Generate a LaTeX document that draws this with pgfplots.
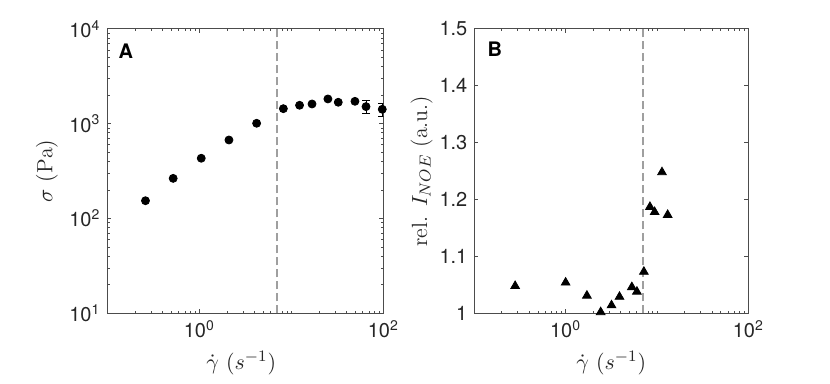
\documentclass[border=0pt]{standalone}
\usepackage{pgfplots}
\pgfplotsset{compat=1.18}
\usepackage{fontspec}
\setsansfont{TeX Gyre Heros}

\pgfplotsset{
  panel/.style={
    scale only axis,
    height=142.2pt,
    xmin=0.1, xmax=100,
    axis line style={black!70, line width=0.5pt},
    every tick/.style={black!70, line width=0.4pt},
    major tick length=2pt, minor tick length=1.2pt,
    tick align=inside,
    tick label style={font=\sffamily\fontsize{10}{12}\selectfont, text=black!85, inner sep=1pt},
    xticklabel style={yshift=-2.3pt},
    yticklabel style={xshift=-2.3pt},
    label style={font=\fontsize{11}{13}\selectfont, text=black!85, inner sep=1pt},
    xtick={1,100},
    xticklabels={10\textsuperscript{0},10\textsuperscript{2}},
    minor xtick={0.2,0.3,0.4,0.5,0.6,0.7,0.8,0.9,2,3,4,5,6,7,8,9,10,20,30,40,50,60,70,80,90},
    xlabel={$\dot{\gamma}\ (s^{-1})$},
  },
  vline/.style={gray!75, line width=0.8pt, dash pattern=on 4pt off 2pt},
}

\begin{document}
\begin{tikzpicture}
\path[use as bounding box] (-53.65pt,-35.35pt) rectangle (361.35pt,156.65pt);

% panel A
\begin{loglogaxis}[panel,
  at={(0,0)}, anchor=south west, width=138pt,
  ymin=10, ymax=10000,
  ytick={10,100,1000,10000},
  yticklabels={10\textsuperscript{1},10\textsuperscript{2},10\textsuperscript{3},10\textsuperscript{4}},
  minor ytick={20,30,40,50,60,70,80,90,200,300,400,500,600,700,800,900,2000,3000,4000,5000,6000,7000,8000,9000},
  ylabel={$\sigma\ (\mathrm{Pa})$},
  xlabel style={at={(axis description cs:0.485,-0.175)}, anchor=center},
  ylabel style={at={(axis description cs:-0.2185,0.5)}, anchor=center},
]
\addplot[vline] coordinates {(7,10) (7,10000)};
\addplot[only marks, mark=*, mark size=2pt, black] coordinates {
  (0.26,154) (0.52,265) (1.05,432) (2.1,673) (4.2,1010)
  (8.2,1440) (12.3,1564) (16.8,1614) (25,1824) (32.4,1683) (49.2,1722)
};
\addplot[only marks, mark=*, mark size=2pt, black,
  error bars/.cd, y dir=both, y explicit,
  error bar style={black, line width=0.5pt},
  error mark options={rotate=90, mark size=2pt, black, line width=0.5pt}]
  coordinates {
  (64.9,1514) +- (0,225)
  (97.5,1419) +- (0,230)
};
\node[anchor=north west, inner sep=0pt, font=\sffamily\bfseries\fontsize{10}{12}\selectfont]
  at (rel axis cs:0.04,0.95) {A};
\end{loglogaxis}

% panel B
\begin{semilogxaxis}[panel,
  at={(183.5pt,0)}, anchor=south west, width=137pt,
  ymin=1, ymax=1.5,
  ytick={1,1.1,1.2,1.3,1.4,1.5},
  yticklabels={1,1.1,1.2,1.3,1.4,1.5},
  ylabel={rel. $I_{NOE}$ (a.u.)},
  xlabel style={at={(axis description cs:0.5,-0.175)}, anchor=center},
  ylabel style={at={(axis description cs:-0.192,0.5)}, anchor=center},
]
\addplot[vline] coordinates {(7,1) (7,1.5)};
\addplot[only marks, mark=triangle*, mark size=2.5pt, black] coordinates {
  (0.28,1.048) (1.0,1.054) (1.71,1.031) (2.42,1.002) (3.18,1.014)
  (3.89,1.029) (5.31,1.046) (6.03,1.038) (7.19,1.073) (8.38,1.187)
  (9.43,1.178) (11.35,1.248) (13.1,1.173)
};
\node[anchor=north west, inner sep=0pt, font=\sffamily\bfseries\fontsize{10}{12}\selectfont]
  at (rel axis cs:0.047,0.955) {B};
\end{semilogxaxis}
\end{tikzpicture}
\end{document}
